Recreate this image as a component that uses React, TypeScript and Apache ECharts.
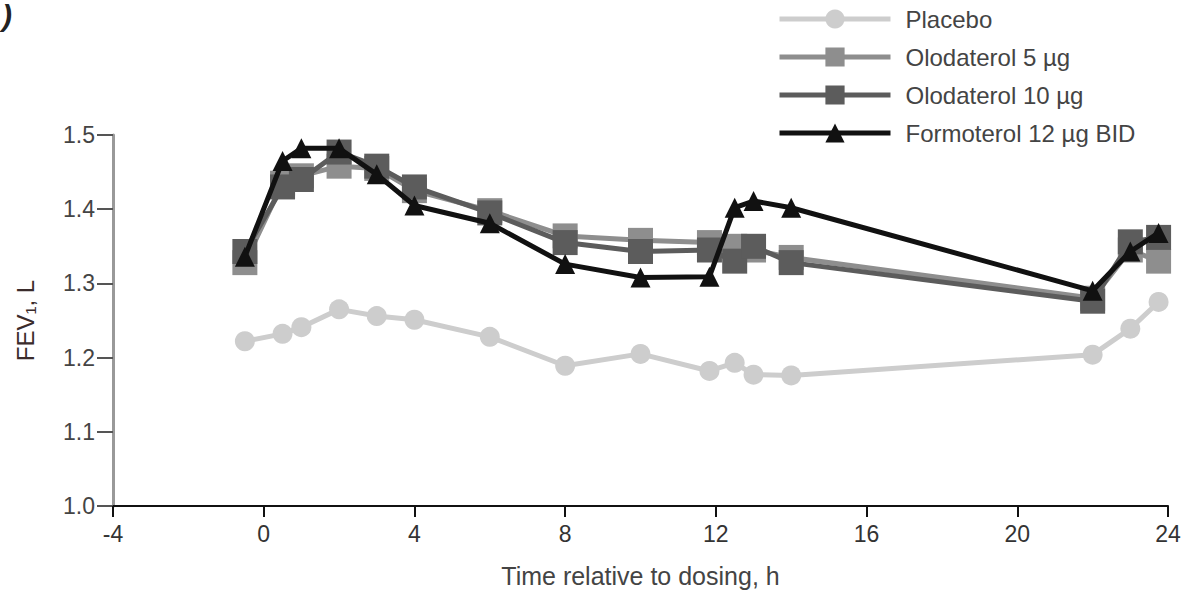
import React, { useEffect, useRef } from "react";
import * as echarts from "echarts";

const times = [-0.5, 0.5, 1, 2, 3, 4, 6, 8, 10, 11.83, 12.5, 13, 14, 22, 23, 23.75];
const placebo = [1.222, 1.232, 1.241, 1.265, 1.256, 1.251, 1.228, 1.189, 1.205, 1.182, 1.193, 1.177, 1.176, 1.204, 1.239, 1.275];
const olo5 = [1.328, 1.435, 1.445, 1.458, 1.455, 1.425, 1.398, 1.364, 1.358, 1.355, 1.35, 1.345, 1.335, 1.28, 1.345, 1.33];
const olo10 = [1.343, 1.43, 1.44, 1.477, 1.458, 1.43, 1.395, 1.355, 1.343, 1.345, 1.33, 1.35, 1.328, 1.276, 1.356, 1.362];
const formoterol = [1.336, 1.465, 1.482, 1.482, 1.447, 1.405, 1.381, 1.326, 1.308, 1.309, 1.402, 1.411, 1.402, 1.29, 1.343, 1.368];

const seriesNames = ["Placebo", "Olodaterol 5 µg", "Olodaterol 10 µg", "Formoterol 12 µg BID"];
const xTicks = [-4, 0, 4, 8, 12, 16, 20, 24];

const font = "'Liberation Sans', Arial, sans-serif";

export default function App() {
  const ref = useRef<HTMLDivElement>(null);
  useEffect(() => {
    if (!ref.current) return;
    const chart = echarts.init(ref.current, null, { renderer: "svg" });
    const pair = (vals: number[]) => times.map((t, i) => [t, vals[i]]);
    const mk = (name: string, vals: number[], color: string, symbol: string, size: number, z: number) => ({
      name,
      type: "line",
      data: pair(vals),
      symbol,
      symbolSize: size,
      z,
      lineStyle: { color, width: 5 },
      itemStyle: { color, borderWidth: 0 },
      emphasis: { disabled: true },
    });
    chart.setOption({
      animation: false,
      backgroundColor: "#fff",
      textStyle: { fontFamily: font },
      grid: { left: 113, right: 19, top: 135, bottom: 85, containLabel: false },
      legend: {
        orient: "vertical",
        left: 772,
        top: 2,
        itemWidth: 111,
        itemHeight: 24,
        itemGap: 14,
        lineStyle: { width: 5 },
        textStyle: { fontSize: 24, color: "#444", fontFamily: font, padding: [0, 0, 0, 10] },
        data: seriesNames,
      },
      xAxis: {
        type: "value",
        min: -4,
        max: 24,
        interval: 4,
        name: "Time relative to dosing, h",
        nameLocation: "middle",
        nameGap: 57,
        nameTextStyle: { fontSize: 25, color: "#444", fontFamily: font },
        axisLine: { show: true, onZero: false, lineStyle: { color: "#111", width: 2 } },
        axisTick: { show: true, length: 11, lineStyle: { color: "#111", width: 2 } },
        axisLabel: {
          fontSize: 23,
          color: "#333",
          margin: 16,
          formatter: (v: number) => (xTicks.includes(v) ? String(v) : ""),
        },
        splitLine: { show: false },
      },
      yAxis: {
        type: "value",
        min: 1.0,
        max: 1.5,
        interval: 0.1,
        name: "FEV\u2081, L",
        nameLocation: "middle",
        nameGap: 76,
        nameRotate: 90,
        nameTextStyle: { fontSize: 24, color: "#3a2b2b", fontFamily: font },
        axisLine: { show: true, onZero: false, lineStyle: { color: "#999", width: 3 } },
        axisTick: { show: true, length: 16, lineStyle: { color: "#555", width: 2 } },
        axisLabel: { fontSize: 23, color: "#444", margin: 18, formatter: (v: number) => v.toFixed(1) },
        splitLine: { show: false },
      },
      graphic: [
        {
          type: "text",
          left: 2,
          top: 0,
          style: { text: ")", fontSize: 30, fontStyle: "italic", fontWeight: "bold", fill: "#222", fontFamily: font },
        },
      ],
      series: [
        mk(seriesNames[0], placebo, "#cdcdcd", "circle", 20, 2),
        mk(seriesNames[1], olo5, "#8e8e8e", "rect", 25, 3),
        mk(seriesNames[2], olo10, "#5c5c5c", "rect", 25, 4),
        mk(seriesNames[3], formoterol, "#111111", "triangle", 20, 5),
      ],
    });
    return () => chart.dispose();
  }, []);
  return <div ref={ref} style={{ width: 1187, height: 593, position: "absolute", left: 0, top: 0 }} />;
}
